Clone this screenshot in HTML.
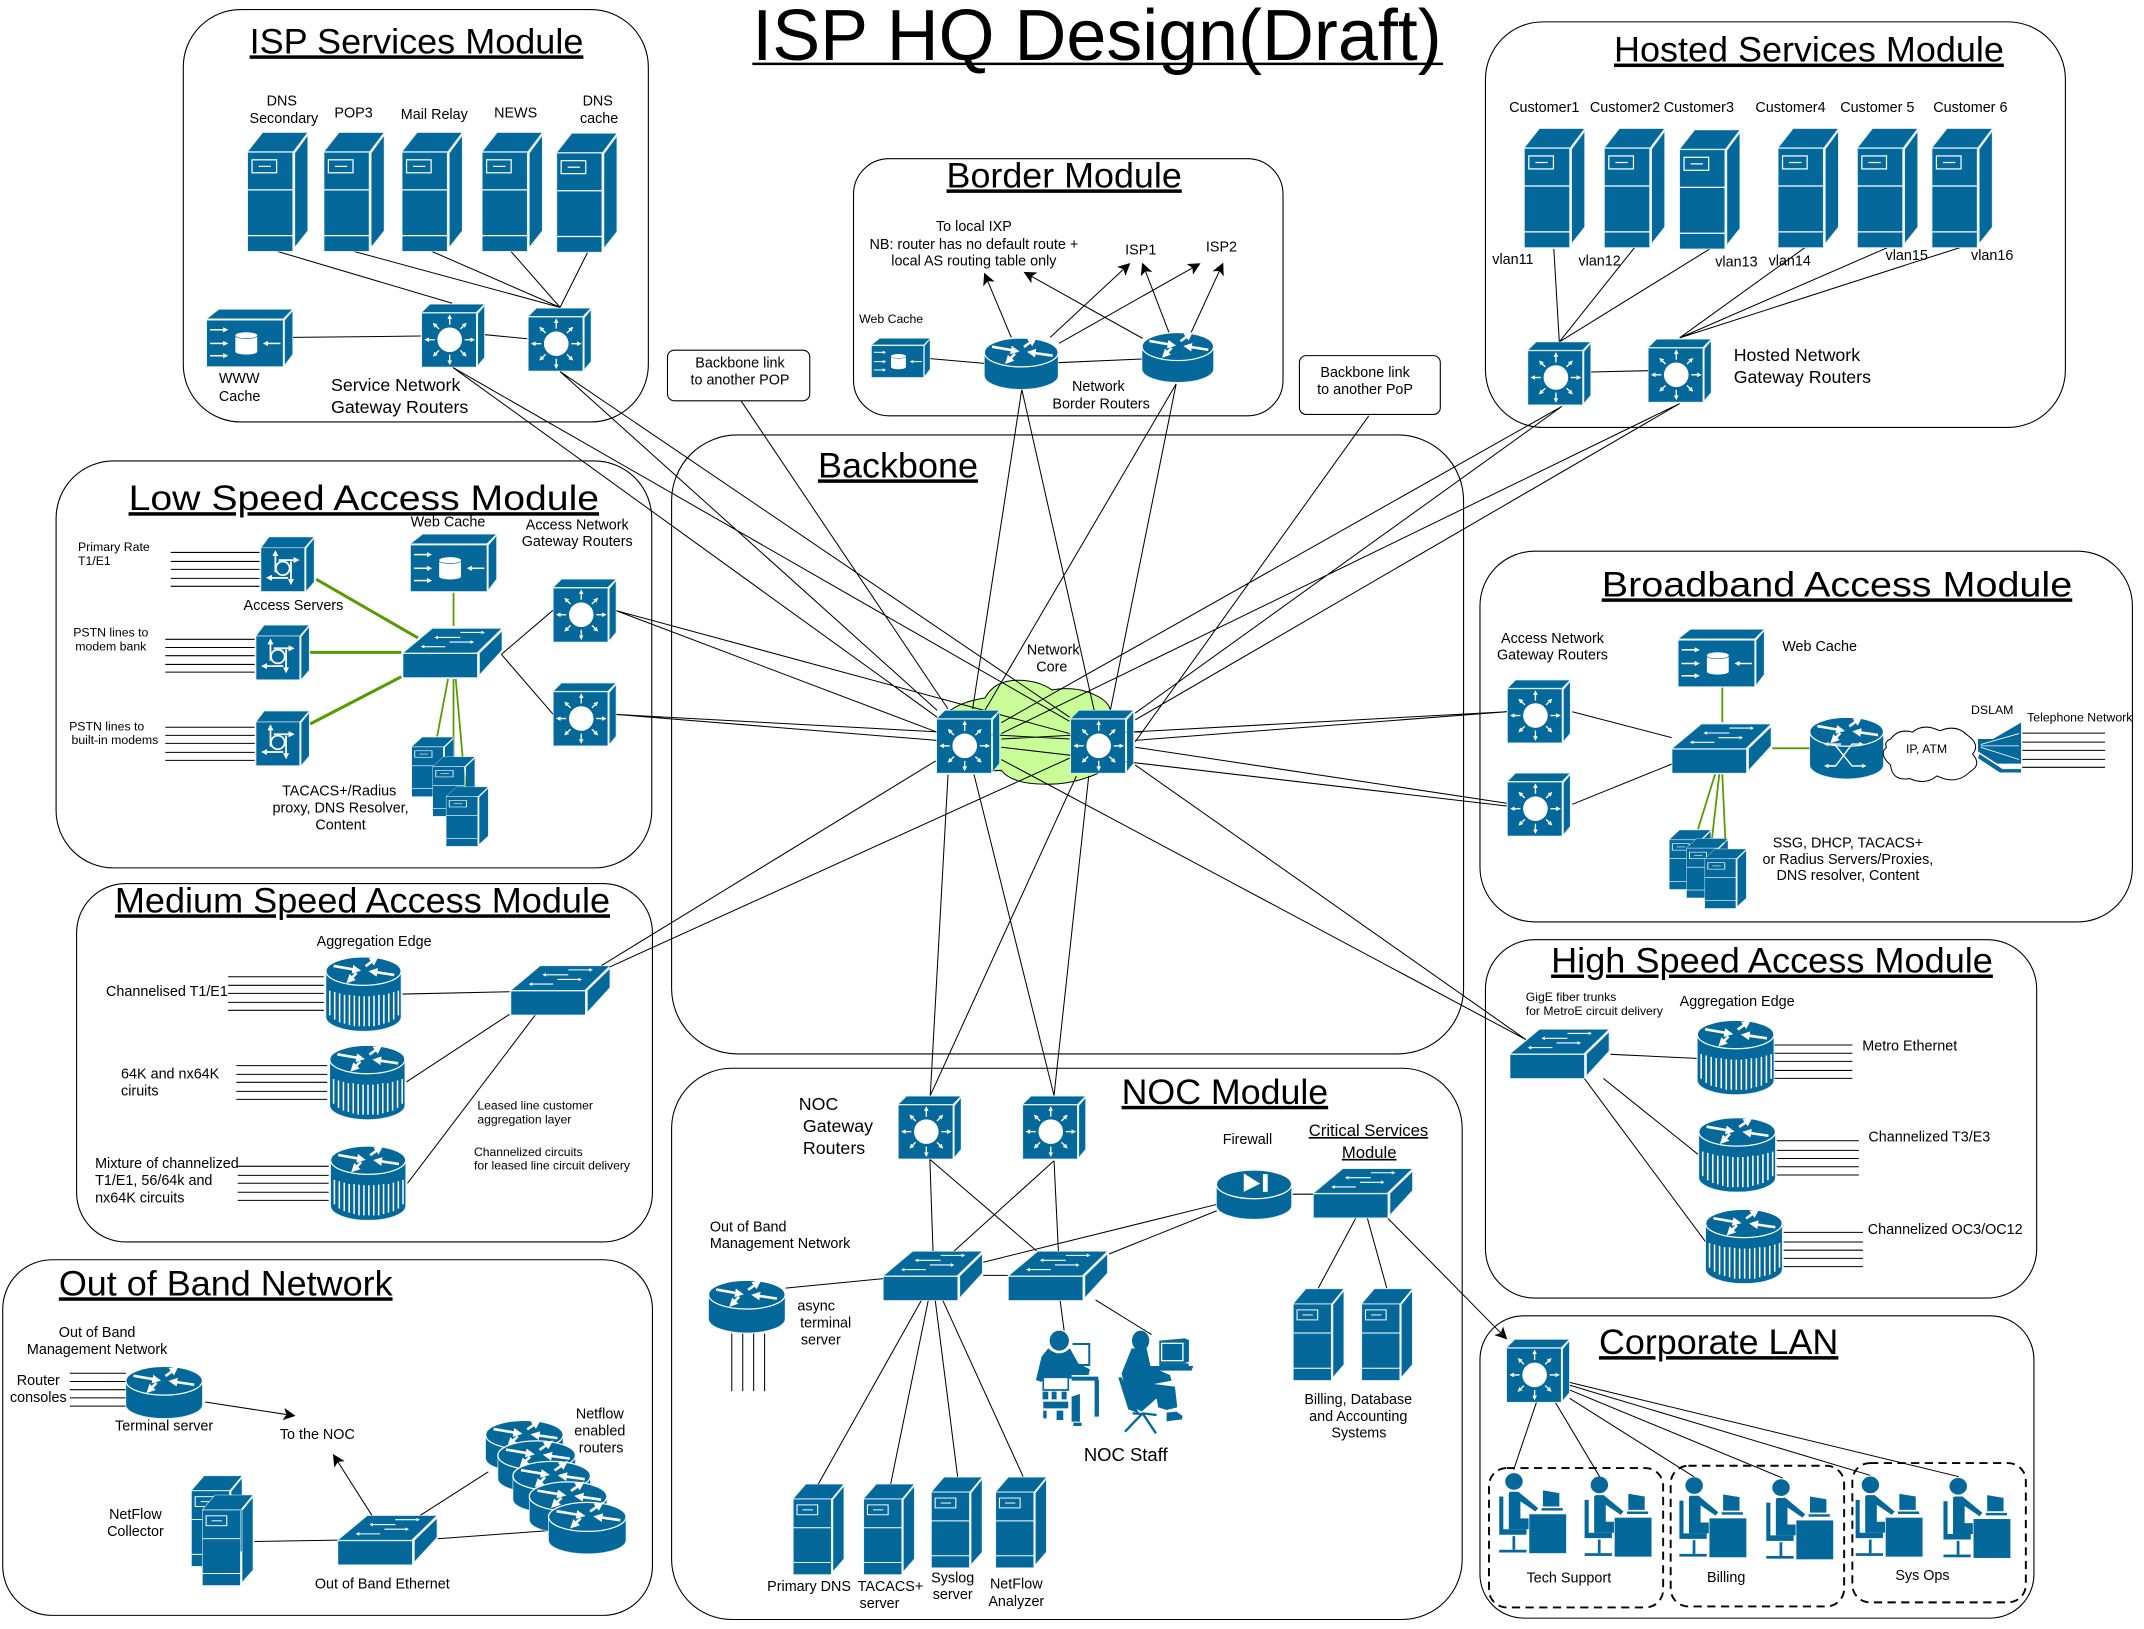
<!DOCTYPE html>
<html><head><meta charset="utf-8"><title>ISP HQ Design(Draft)</title>
<style>
html,body{margin:0;padding:0;background:#fff}
svg{display:block}
text{font-family:"Liberation Sans",sans-serif;font-size:10.5px;fill:#000}
.m{text-anchor:middle}
.s9{font-size:9px}.s85{font-size:8.6px}.s12{font-size:13px}.s13{font-size:13.5px}
.t{font-size:25.5px;text-decoration:underline;text-decoration-skip-ink:none}
.box{fill:#fff;stroke:#000;stroke-width:.8}
.k{fill:none;stroke:#000;stroke-width:.75}
.g{fill:none;stroke:#559c00;stroke-width:1.3}
.b{fill:#05689b;stroke:#d8ecf5;stroke-width:.5}
.n{fill:#05689b}
.w{fill:none;stroke:#fff;stroke-width:.9}
.wf{fill:#fff;stroke:none}
</style></head><body>
<svg xmlns="http://www.w3.org/2000/svg" width="2144" height="1629" viewBox="0 0 1569.5 1192.5">
<defs>
<marker id="mw" viewBox="0 0 4 4" refX="1" refY="2" markerWidth="3.4" markerHeight="3.4" orient="auto"><path d="M0,0L4,2L0,4Z" fill="#fff"/></marker>
<marker id="mk" viewBox="0 0 8 8" refX="7" refY="4" markerUnits="userSpaceOnUse" markerWidth="9" markerHeight="9" orient="auto"><path d="M0,0L8,4L0,8L2,4Z" fill="#000"/></marker>
<g id="srv"><path class="b" d="M0,14L11,0H44L33.5,14Z"/><path class="b" d="M34.5,15L44,2V72L34.5,84Z"/><rect class="b" x="0" y="14.5" width="33" height="72.5"/><path class="w" d="M0,42H33M0,75.5H33"/><rect class="w" x="3.2" y="20" width="18" height="9.5"/><path class="w" d="M8,24.8H17"/></g>
<g id="l3"><path class="b" d="M0,6L6,0H46L40,6Z"/><path class="b" d="M41,7L46,1V39L41,45Z"/><rect class="b" x="0" y="6.5" width="40" height="39.5"/><circle class="wf" cx="20.5" cy="26" r="9"/><path stroke="#fff" stroke-width="1" marker-end="url(#mw)" d="M20.5,15V10"/><path stroke="#fff" stroke-width="1" marker-end="url(#mw)" d="M20.5,37V42"/><path stroke="#fff" stroke-width="1" marker-end="url(#mw)" d="M9.5,26H4.5"/><path stroke="#fff" stroke-width="1" marker-end="url(#mw)" d="M31.5,26H36.5"/><path stroke="#fff" stroke-width="1" marker-end="url(#mw)" d="M28.3,18.2L31.1,15.4"/><path stroke="#fff" stroke-width="1" marker-end="url(#mw)" d="M12.7,18.2L9.9,15.4"/><path stroke="#fff" stroke-width="1" marker-end="url(#mw)" d="M28.3,33.8L31.1,36.6"/><path stroke="#fff" stroke-width="1" marker-end="url(#mw)" d="M12.7,33.8L9.9,36.6"/></g>
<g id="wc"><path class="b" d="M0,7L9,0H63L56,7Z"/><path class="b" d="M57,8L63,1V33L57,41Z"/><rect class="b" x="0" y="8" width="56" height="34"/><path stroke="#fff" stroke-width="1.1" marker-end="url(#mw)" d="M2.5,15H13"/><path stroke="#fff" stroke-width="1.1" marker-end="url(#mw)" d="M2.5,25H13"/><path stroke="#fff" stroke-width="1.1" marker-end="url(#mw)" d="M2.5,34H13"/><path stroke="#fff" stroke-width="1.1" marker-end="url(#mw)" d="M54,25H44"/><path class="wf" d="M21,19A8,2.2 0 0 1 37,19V31A8,2.2 0 0 1 21,31Z"/><path d="M21,19.5A8,2 0 0 0 37,19.5" fill="none" stroke="#05689b" stroke-width=".5"/></g>
<g id="as"><path class="b" d="M0,8L6,0H39L32,8Z"/><path class="b" d="M33,8.5L39,1V33L33,40Z"/><rect class="b" x="0" y="8" width="32" height="32"/><circle cx="16" cy="23" r="5" fill="none" stroke="#fff" stroke-width="1.3"/><path stroke="#fff" fill="none" stroke-width="1.3" marker-end="url(#mw)" d="M10.6,26V13"/><path stroke="#fff" fill="none" stroke-width="1.3" marker-end="url(#mw)" d="M13,17H25"/><path stroke="#fff" fill="none" stroke-width="1.3" marker-end="url(#mw)" d="M20,30H7"/><path stroke="#fff" fill="none" stroke-width="1.3" marker-end="url(#mw)" d="M22,18V32"/></g>
<g id="sw"><path class="b" d="M0,18L21.6,0H72.5L54,18Z"/><path class="b" d="M56,18L72.5,2V16L56,34Z"/><rect class="b" x="0" y="18.5" width="54.5" height="17.5"/><path stroke="#fff" stroke-width=".8" marker-end="url(#mw)" d="M42,6.6H25"/><path stroke="#fff" stroke-width=".8" marker-end="url(#mw)" d="M42,3H58"/><path stroke="#fff" stroke-width=".8" marker-end="url(#mw)" d="M31,13.4H15"/><path stroke="#fff" stroke-width=".8" marker-end="url(#mw)" d="M34,10H50"/></g>
<g id="ra"><path stroke="#fff" fill="none" marker-end="url(#mw)" d="M5.6,6.8L21,9.5" style="stroke-width:1.9"/><path stroke="#fff" stroke-width="1.9" marker-end="url(#mw)" d="M29,7L34.5,3"/><path stroke="#fff" stroke-width="1.9" marker-end="url(#mw)" d="M50,13.4L36,11.3"/><path stroke="#fff" stroke-width="1.9" marker-end="url(#mw)" d="M22.4,12L18.5,16"/></g>
<g id="rv"><path class="b" d="M0,10.4V44A27.5,10.6 0 0 0 55,44V10.4Z"/><path stroke="#fff" stroke-width="1.1" fill="none" d="M2.8,25V43M6.4,26V46M10,27V48M13.6,28V49M17.2,28V50M20.8,28.5V51M24.4,29V51M28,29V51M31.6,29V51M35.2,28.5V51M38.8,28V50M42.4,28V49M46,27V48M49.6,26V46M53,25V43"/><ellipse class="n" cx="27.5" cy="10.6" rx="27.5" ry="10.4" stroke="#fff" stroke-width=".9"/><use href="#ra"/></g>
<g id="rp"><path class="b" d="M0,11V28A27,10 0 0 0 54,28V11Z"/><ellipse class="n" cx="27" cy="11" rx="27" ry="10.6" stroke="#fff" stroke-width=".9"/><use href="#ra"/></g>
<g id="rx"><path class="b" d="M0,11V35A27,10.5 0 0 0 54,35V11Z"/><ellipse class="n" cx="27" cy="11" rx="27" ry="10.6" stroke="#fff" stroke-width=".9"/><use href="#ra"/><path stroke="#fff" stroke-width="1" fill="none" marker-end="url(#mw)" d="M12,36H19L31,20H37"/><path stroke="#fff" stroke-width="1" fill="none" marker-end="url(#mw)" d="M23,20H18L31,36H39"/><path stroke="#fff" stroke-width="1" fill="none" marker-end="url(#mw)" d="M19,20H13"/><path stroke="#fff" stroke-width="1" fill="none" marker-end="url(#mw)" d="M19,36H13"/></g>
<g id="pp"><ellipse class="n" cx="10.8" cy="6" rx="6.4" ry="6.1"/><path class="n" d="M7,15Q7,13.5 9,13.5H14L28.5,25.5L26.5,28L15.5,20.5V33H21.5V41H7Z"/><path class="n" d="M0,17H3V41H20V45H0Z"/><rect class="n" x="9.7" y="46" width="2" height="10"/><rect class="n" x="0" y="56" width="20" height="2"/><rect class="n" x="22" y="30" width="27" height="28.5"/><path class="n" d="M32,12.5L44,14.5V24.3H32Z"/><rect class="n" x="31" y="25.5" width="15.5" height="1.8"/></g>
</defs>

<!-- module boxes -->
<g transform="scale(1.0013)">
<rect class="box" x="134" y="7" width="340" height="301.5" rx="42"/>
<rect class="box" x="624" y="116" width="314" height="188" rx="26"/>
<rect class="box" x="1086" y="16" width="424" height="296.5" rx="42"/>
<rect class="box" x="491" y="318" width="579" height="452.5" rx="48"/>
<rect class="box" x="41" y="337" width="435.5" height="297.5" rx="42"/>
<rect class="box" x="1082" y="403" width="477" height="271" rx="40"/>
<rect class="box" x="56" y="646" width="421" height="262" rx="36"/>
<rect class="box" x="1086" y="687" width="403" height="262" rx="36"/>
<rect class="box" x="491" y="781" width="578" height="403" rx="44"/>
<rect class="box" x="2" y="921" width="475" height="260" rx="36"/>
<rect class="box" x="1082" y="962" width="405" height="221" rx="32"/>
<rect class="box" x="488" y="256" width="104" height="37" rx="5"/>
<rect class="box" x="950" y="260" width="103" height="43" rx="5"/>
</g>

<!-- core cloud -->
<path d="M690,525Q700,514 721,511Q728,498 745,498Q760,498 770,505Q788,502 802,509Q811,513 813,520L816,560Q790,575 765,574Q741,574 733,564L700,565Z" fill="#c9fd97" stroke="#000" stroke-width=".75"/>

<!-- connectors -->
<path class="k" d="M203,184L331,222M259,184L410,225M316,184L410,225M374,184L410,225M430,185L410,225M214,247L308,246M355,245L386,248
M331.5,269L783,528M331.5,269L686,525M410,272L783,525M410,272L686,520M542.5,293.5L694,519M451,447L686,536M451,447L783,537M451,523L686,542M451,523L783,541M440,707L685,557M446,708L783,555
M1143.5,297.4L733,529M1229.6,295.4L733,537M1143.5,297.4L831,522M1229.6,295.4L831,527M1002,304.4L831,543
M748,285L712,519M748,285L801,520M861,281L721,520M861,281L813,519
M733,541L1103,521M831,542L1103,521M733,547L1103,590M831,547L1103,588
M733,556L1117,761M831,560L1117,761
M694,567L681,802M713,567L771.6,802M788,568L681,802M797,568L771.6,802
M681,262.5L720.6,266M774,265.5L836,262.8
M125,404.4H190M125,411H190M125,416.8H190M125,423.4H190M125,429.2H190M121,468H186.4M121,474H186.4M121,480H186.4M121,486.4H186.4M121,492H186.4M121,532.4H186.4M121,538.3H186.4M121,544.2H186.4M121,550.8H186.4M121,556.6H186.4
M367,479L405,446.6M367,479L405,523
M1151,521L1223.7,540M1151,588.8L1223.7,559.4
M1480.4,536.7H1541M1480.4,543.3H1541M1480.4,549.3H1541M1480.4,555.9H1541M1480.4,561.7H1541
M167,715H237M167,721.3H237M167,727.2H237M167,733.8H237M167,739.6H237M173,780.1H239.5M173,786.5H239.5M173,792.3H239.5M173,798.9H239.5M173,804.8H239.5M174,853.8H240.6M174,860.4H240.6M174,866.2H240.6M174,872.8H240.6M174,878.7H240.6
M294.7,727.7L373,726M297.5,792L373,742.5M298.3,866.2L392,742.8
M1299,765H1356M1299,771H1356M1299,777H1356M1299,783.6H1356M1299,789.4H1356
M1179,771.8L1242,774.8M1173.7,789.4L1243,845M1159.7,789.4L1248.5,909
M680.7,848.7L683,916M680.7,848.7L758.8,915.7M771.6,849.7L698.3,916M771.6,849.7L774.8,916M719.8,924L890.7,881.7M811.9,918L890.7,886.3M719.8,933.6H737.7M575,943L646.6,936M946.3,874.2H961.5M992.4,891.9L965,943M1001,891.9L1015.2,943
M674.7,951.6L599,1086.4M679.6,951.6L652,1086.4M684.6,951.6L701,1081M690,951.6L749,1081M776,951.6L779,974M802,951.6L843,977
M1124.8,1026.4L1108,1076M1138.8,1027L1171,1081M1149,1023.6L1240,1081M1149,1017.5L1305,1082M1149,1014L1369,1080M1149,1012L1434,1081"/>
<g transform="scale(1.0013)">
<path class="k" d="M1136,182L1140,250M1195,181L1140,250M1250,182L1140,250M1321,180L1228,247M1380,181L1228,247M1436,180L1228,247M1163,272L1205,271
M1299,834H1359M1299,841H1359M1299,847H1359M1299,853H1359M1299,859H1359M1304,901H1362M1304,908H1362M1304,914H1362M1304,920H1362M1304,926H1362
M535,975V1017M543,975V1017M551,975V1017M559,975V1017
M51,1004H92M51,1010H92M51,1016H92M51,1022H92M51,1028H92
M186,1127L247,1126M320,1125L401,1119M307,1108L357,1076"/>
<path class="k" marker-end="url(#mk)" d="M150,1025L215,1035"/>
<path class="k" marker-end="url(#mk)" d="M272,1108L244,1064"/>
</g>
<path class="k" marker-end="url(#mk)" d="M740.3,247L720.9,200.6"/>
<path class="k" marker-end="url(#mk)" d="M768.8,247L826.6,193.3"/>
<path class="k" marker-end="url(#mk)" d="M775.3,251.3L877.9,193.3"/>
<path class="k" marker-end="url(#mk)" d="M836.4,247.7L750.3,199.6"/>
<path class="k" marker-end="url(#mk)" d="M855.8,243.5L836.5,193.3"/>
<path class="k" marker-end="url(#mk)" d="M871.9,243.5L895,193.3"/>
<path class="k" marker-end="url(#mk)" d="M1016,891.9L1102.6,979.8"/>

<path class="g" style="stroke-width:2.2" d="M231.4,424L306,467M227,477.6H293.8M227,530L293.8,495.4"/>
<path class="g" d="M332,434V458.3M328,497L320,539M332,497V554M333.6,497L340.6,576M1260.8,503.4V528.7M1297.3,547.8H1324.8M1255.5,566.8L1243,607M1258.6,566.8L1253.3,613.5M1260.8,566.8L1263.3,620.8"/>

<!-- ISP module icons -->
<use href="#srv" x="181.3" y="97"/><use href="#srv" x="237.2" y="97"/><use href="#srv" x="294.4" y="97"/><use href="#srv" x="353" y="97"/><use href="#srv" x="407.6" y="97.6"/>
<use href="#l3" x="308.7" y="222.7"/><use href="#l3" x="386.7" y="225.6"/><use href="#wc" x="151.3" y="226.4"/>

<!-- Hosted -->
<g transform="scale(1.0013)">
<use href="#srv" x="1114.5" y="94"/><use href="#srv" x="1173" y="94"/><use href="#srv" x="1228" y="95"/><use href="#srv" x="1300" y="94"/><use href="#srv" x="1358" y="94"/><use href="#srv" x="1412.5" y="94"/>
<use href="#l3" x="1117" y="250"/><use href="#l3" x="1205" y="248"/>
</g>

<!-- Border -->
<use href="#rp" x="720.6" y="247"/><use href="#rp" transform="translate(836,243) scale(.97,.97)"/>
<use href="#wc" transform="translate(638,247.7) scale(.68,.68)"/>

<!-- core -->
<use href="#l3" x="685.7" y="520"/><use href="#l3" x="783.8" y="520"/>

<!-- Low speed -->
<use href="#as" x="191" y="393"/><use href="#as" x="187.4" y="457.6"/><use href="#as" x="187.4" y="520.5"/>
<use href="#wc" x="300.5" y="391"/><use href="#sw" x="295" y="460"/>
<use href="#l3" x="405" y="424"/><use href="#l3" x="405" y="500"/>
<use href="#srv" transform="translate(301.4,539.6) scale(.7,.5)"/><use href="#srv" transform="translate(316.8,554) scale(.7,.5)"/><use href="#srv" transform="translate(326.6,576) scale(.7,.5)"/>

<!-- Broadband -->
<use href="#l3" x="1103.5" y="497.8"/><use href="#l3" x="1103.5" y="566"/>
<use href="#wc" x="1228.5" y="460.7"/><use href="#sw" x="1224" y="530"/>
<use href="#rx" x="1324.8" y="524.7"/>
<path d="M1384,541Q1390,533 1400,536Q1408,529 1420,535Q1432,530 1440,538Q1450,545 1444,552Q1451,560 1442,565Q1432,575 1418,568Q1410,575 1398,570Q1385,572 1384,560Q1375,552 1381,547Q1379,543 1384,541Z" fill="#fff" stroke="#000" stroke-width=".75"/>
<path class="n" d="M1448,541H1459L1479.5,529V559H1462L1448,550Z"/><path class="n" d="M1449,552L1466,563H1479.5V565.5H1464L1448,555Z"/>
<path class="w" style="stroke-width:.6" d="M1450,545L1478,537M1450,546H1478M1450,547L1478,556"/>
<use href="#srv" transform="translate(1222,607.6) scale(.69,.5)"/><use href="#srv" transform="translate(1234.6,613.8) scale(.69,.5)"/><use href="#srv" transform="translate(1248,621.5) scale(.69,.5)"/>

<!-- Medium -->
<use href="#rv" x="238.6" y="700.3"/><use href="#rv" x="241.4" y="765"/><use href="#rv" x="242" y="838.7"/>
<use href="#sw" x="374" y="707"/>

<!-- High -->
<use href="#sw" x="1105.4" y="753.5"/>
<use href="#rv" transform="translate(1242.5,746.7) scale(1.02,1)"/><use href="#rv" transform="translate(1243.6,818) scale(1.02,1)"/><use href="#rv" transform="translate(1248.6,885) scale(1.02,1)"/>

<!-- NOC -->
<use href="#l3" x="657.6" y="802.4"/><use href="#l3" x="748.7" y="802.4"/>
<use href="#sw" x="646.6" y="916"/><use href="#sw" x="738.2" y="916"/><use href="#sw" x="961.5" y="855.5"/>
<g transform="translate(890.5,856.5)"><path class="b" d="M0,10V26A27.5,10 0 0 0 55,26V10Z"/><ellipse class="n" cx="27.5" cy="10.5" rx="27.5" ry="10.5" stroke="#fff" stroke-width=".9"/><path class="wf" d="M20,2.5L32,10L20,16Z"/><rect class="wf" x="34" y="3" width="3.5" height="13"/></g>
<use href="#srv" transform="translate(946.8,943.5) scale(.84,.77)"/><use href="#srv" transform="translate(996.9,943.5) scale(.84,.77)"/>
<!-- NOC staff -->
<g transform="translate(732,966.3) scale(.244)" class="n">
<path fill="none" stroke="#05689b" stroke-width="6" d="M218,72H268V135H218"/>
<ellipse cx="178" cy="62" rx="29" ry="30"/>
<path d="M145,85Q178,115 210,85L235,130L270,148L266,165L215,165V176H130L125,186L108,180L125,110Z"/>
<path d="M215,170H295V182H215ZM284,180H297V290H284Z"/>
<path fill="#fff" d="M130,172H205V210H130Z" stroke="#05689b" stroke-width="5"/>
<path d="M130,245H205V265H130ZM215,230L240,222V305H215ZM128,215H145V238H128ZM155,215H170V238H155ZM185,215H200V238H185ZM130,272H140V295H130ZM170,272H190V300H170Z"/>
<path d="M220,308H245V318H220Z"/>
<ellipse cx="422" cy="62" rx="26" ry="30"/>
<path d="M395,85L440,85L452,140L510,165L515,182L462,192L525,200L532,262L500,270L475,262L470,235L425,275L388,255L365,160Z"/>
<path d="M355,172L365,172L412,270L418,280L385,268Z"/>
<path d="M428,280L470,285M428,280L375,335M428,280L468,340M428,282L398,280" fill="none" stroke="#05689b" stroke-width="7"/>
<path d="M500,278L530,275L548,288L546,298L500,304Z"/>
<path d="M478,62L555,55L567,60V125L553,130H478Z"/><rect x="483" y="68" width="68" height="56" fill="#fff"/><rect x="487" y="72" width="60" height="48"/>
<path d="M478,130H566V138L478,142ZM450,138H580L575,152H460Z"/>
</g>

<!-- Out of Band + NOC eyeballed icons -->
<g transform="scale(1.0013)">
<g transform="translate(518,936)"><path class="b" d="M0,10.5V28A28,10.5 0 0 0 56,28V10.5Z"/><ellipse class="n" cx="28" cy="10.5" rx="28" ry="10.5" stroke="#fff" stroke-width=".9"/><use href="#ra"/></g>
<use href="#srv" transform="translate(580,1085) scale(.84,.76)"/><use href="#srv" transform="translate(631.5,1085) scale(.84,.76)"/><use href="#srv" transform="translate(681,1080) scale(.84,.76)"/><use href="#srv" transform="translate(728,1080) scale(.84,.76)"/>
<g transform="translate(92,999)"><path class="b" d="M0,10.5V28A28,10 0 0 0 56,28V10.5Z"/><ellipse class="n" cx="28" cy="10.5" rx="28" ry="10.5" stroke="#fff" stroke-width=".9"/><use href="#ra"/></g>
<use href="#sw" x="247" y="1108"/>
<use href="#rp" transform="translate(355,1038) scale(1.05,1)"/><use href="#rp" transform="translate(364,1053) scale(1.05,1)"/><use href="#rp" transform="translate(375,1068) scale(1.05,1)"/><use href="#rp" transform="translate(387,1083) scale(1.05,1)"/><use href="#rp" transform="translate(401,1098) scale(1.05,1)"/>
<use href="#srv" transform="translate(140,1079) scale(.84,.76)"/><use href="#srv" transform="translate(148,1093) scale(.84,.76)"/>
</g>

<!-- Corporate LAN -->
<use href="#l3" x="1102.9" y="980.5"/>
<use href="#pp" x="1097.5" y="1078.5"/><use href="#pp" x="1160" y="1081"/><use href="#pp" x="1229.4" y="1081.5"/><use href="#pp" x="1293" y="1083"/><use href="#pp" x="1358.4" y="1081"/><use href="#pp" x="1422.7" y="1082"/>
<g fill="none" stroke="#000" stroke-width="1.4" stroke-dasharray="6 4">
<rect x="1090" y="1074.7" width="127.5" height="102" rx="13"/><rect x="1223" y="1073" width="127" height="103" rx="13"/><rect x="1356" y="1071" width="127" height="102" rx="13"/>
</g>

<!-- all text -->
<g transform="scale(1.0013)">
<text x="550" y="44" style="font-size:53px" textLength="504" lengthAdjust="spacingAndGlyphs">ISP HQ Design(Draft)</text>
<rect x="550" y="45.8" width="505" height="1.8" fill="#000"/>
<text class="t" x="182.5" y="39" textLength="244" lengthAdjust="spacingAndGlyphs">ISP Services Module</text>
<text class="t" x="1180" y="45" textLength="285" lengthAdjust="spacingAndGlyphs">Hosted Services Module</text>
<text class="t" x="692" y="137" textLength="172" lengthAdjust="spacingAndGlyphs">Border Module</text>
<text class="t" x="598" y="349" textLength="117" lengthAdjust="spacingAndGlyphs">Backbone</text>
<text class="t" x="94" y="373" textLength="344" lengthAdjust="spacingAndGlyphs">Low Speed Access Module</text>
<text class="t" x="1171" y="436" textLength="344" lengthAdjust="spacingAndGlyphs">Broadband Access Module</text>
<text class="t" x="84" y="667" textLength="362" lengthAdjust="spacingAndGlyphs">Medium Speed Access Module</text>
<text class="t" x="1134" y="711" textLength="323" lengthAdjust="spacingAndGlyphs">High Speed Access Module</text>
<text class="t" x="820" y="807" textLength="151" lengthAdjust="spacingAndGlyphs">NOC Module</text>
<text class="t" x="43" y="947" textLength="244" lengthAdjust="spacingAndGlyphs">Out of Band Network</text>
<text class="t" x="1169" y="990" textLength="175" lengthAdjust="spacingAndGlyphs">Corporate LAN</text>

<text class="m" x="206" y="77">DNS</text><text class="m" x="207.5" y="90">Secondary</text><text class="m" x="258.5" y="86">POP3</text><text class="m" x="317.5" y="87">Mail Relay</text><text class="m" x="377" y="86">NEWS</text><text class="m" x="437" y="77">DNS</text><text class="m" x="438" y="90">cache</text>
<text x="160" y="280">WWW</text><text x="160" y="293">Cache</text>
<text class="s12" x="242" y="286">Service Network</text><text class="s12" x="242" y="302">Gateway Routers</text>

<text class="m" x="1129" y="82">Customer1</text><text class="m" x="1188" y="82">Customer2</text><text class="m" x="1242" y="82">Customer3</text><text class="m" x="1309" y="82">Customer4</text><text class="m" x="1372.5" y="82">Customer 5</text><text class="m" x="1440.5" y="82">Customer 6</text>
<text x="1091" y="193">vlan11</text><text x="1154" y="194">vlan12</text><text x="1254" y="195">vlan13</text><text x="1293" y="194">vlan14</text><text x="1378.5" y="190">vlan15</text><text x="1441" y="190">vlan16</text>
<text class="s12" x="1267.5" y="264">Hosted Network</text><text class="s12" x="1267.5" y="280">Gateway Routers</text>

<text class="m" x="712" y="169">To local IXP</text><text class="m" x="712" y="182">NB: router has no default route +</text><text class="m" x="712" y="194">local AS routing table only</text>
<text class="m" x="834" y="186">ISP1</text><text class="m" x="893" y="184">ISP2</text><text class="m s9" x="651.5" y="236">Web Cache</text>
<text class="m" x="803" y="286">Network</text><text class="m" x="805" y="298.5">Border Routers</text>
<text class="m" x="541" y="268.5">Backbone link</text><text class="m" x="541" y="281">to another POP</text>
<text class="m" x="998" y="275.5">Backbone link</text><text class="m" x="998" y="288">to another PoP</text>
<text class="m" x="770" y="478.5">Network</text><text class="m" x="769" y="491">Core</text>

<text class="s9" x="57" y="403">Primary Rate</text><text class="s9" x="57" y="413">T1/E1</text>
<text class="m" x="214.5" y="446">Access Servers</text>
<text class="m s9" x="81" y="465.5">PSTN lines to</text><text class="m s9" x="81" y="475.5">modem bank</text>
<text class="m s9" x="78" y="534">PSTN lines to</text><text class="m s9" x="84" y="544">built-in modems</text>
<text class="m" x="248" y="581.5">TACACS+/Radius</text><text class="m" x="249" y="594">proxy, DNS Resolver,</text><text class="m" x="249" y="606.5">Content</text>
<text class="m" x="327.5" y="385">Web Cache</text><text class="m" x="422" y="387">Access Network</text><text class="m" x="422" y="399">Gateway Routers</text>

<text class="m" x="1135" y="470">Access Network</text><text class="m" x="1135" y="482">Gateway Routers</text>
<text x="1303" y="476">Web Cache</text><text class="m s9" x="1456.5" y="522">DSLAM</text>
<text class="s9" x="1482" y="527.5" textLength="77" lengthAdjust="spacingAndGlyphs">Telephone Network</text>
<text class="m s9" x="1408.5" y="550.5">IP, ATM</text>
<text class="m" x="1351" y="619.5">SSG, DHCP, TACACS+</text><text class="m" x="1351" y="631.5">or Radius Servers/Proxies,</text><text class="m" x="1351" y="643.5">DNS resolver, Content</text>

<text class="m" x="273.5" y="691.5">Aggregation Edge</text><text x="77.5" y="728">Channelised T1/E1</text>
<text x="88.5" y="788.5">64K and nx64K</text><text x="88.5" y="801">ciruits</text>
<text x="69.5" y="854">Mixture of channelized</text><text x="69.5" y="866.5">T1/E1, 56/64k and</text><text x="69.5" y="879">nx64K circuits</text>
<text class="s85" x="349" y="811" style="font-size:8.9px">Leased line customer</text><text class="s85" x="349" y="821.5" style="font-size:8.9px">aggregation layer</text>
<text class="s85" x="346.5" y="845" style="font-size:8.9px">Channelized circuits</text><text class="s85" x="346.5" y="855" style="font-size:8.9px">for leased line circuit delivery</text>

<text class="s85" x="1115.5" y="732" style="font-size:8.9px">GigE fiber trunks</text><text class="s85" x="1115.5" y="742" style="font-size:8.9px">for MetroE circuit delivery</text>
<text class="m" x="1270" y="735.5">Aggregation Edge</text>
<text x="1361.5" y="768">Metro Ethernet</text><text x="1366" y="834.5">Channelized T3/E3</text><text x="1365.5" y="902">Channelized OC3/OC12</text>

<text x="584" y="811.5" style="font-size:13px">NOC</text><text x="587" y="827.5" style="font-size:13px">Gateway</text><text x="587" y="843.5" style="font-size:13px">Routers</text>
<text x="519" y="900.5">Out of Band</text><text x="519" y="912.5">Management Network</text>
<text x="583" y="958">async</text><text x="585" y="970.5">terminal</text><text x="585.5" y="983">server</text>
<text class="m" x="912" y="836.5">Firewall</text>
<text class="m" x="1000.5" y="830.5" style="font-size:12.2px;text-decoration:underline;text-decoration-skip-ink:none">Critical Services</text><text class="m" x="1001" y="846.5" style="font-size:12.2px;text-decoration:underline;text-decoration-skip-ink:none">Module</text>
<text class="m" x="993" y="1026.5">Billing, Database</text><text class="m" x="993" y="1039">and Accounting</text><text class="m" x="993.5" y="1051">Systems</text>
<text class="m" x="823" y="1068" style="font-size:13.5px">NOC Staff</text>
<text class="m" x="591.5" y="1163">Primary DNS</text><text class="m" x="651" y="1163">TACACS+</text><text class="m" x="643" y="1175.5">server</text>
<text class="m" x="696.5" y="1157">Syslog</text><text class="m" x="696.5" y="1169">server</text><text class="m" x="743" y="1161.5">NetFlow</text><text class="m" x="743" y="1174">Analyzer</text>

<text class="m" x="71" y="977.5">Out of Band</text><text class="m" x="71" y="990">Management Network</text>
<text class="m" x="28" y="1012.5">Router</text><text class="m" x="28" y="1025">consoles</text>
<text class="m" x="120" y="1046">Terminal server</text><text class="m" x="232" y="1052">To the NOC</text>
<text class="m" x="438.5" y="1037">Netflow</text><text class="m" x="438.5" y="1049.5">enabled</text><text class="m" x="439.5" y="1062">routers</text>
<text class="m" x="99" y="1110.5">NetFlow</text><text class="m" x="99" y="1123">Collector</text>
<text class="m" x="279.5" y="1161.5">Out of Band Ethernet</text>

<text class="m" x="1147" y="1157">Tech Support</text><text class="m" x="1262" y="1156.5">Billing</text><text class="m" x="1405.5" y="1155">Sys Ops</text>
</g>
</svg>
</body></html>
